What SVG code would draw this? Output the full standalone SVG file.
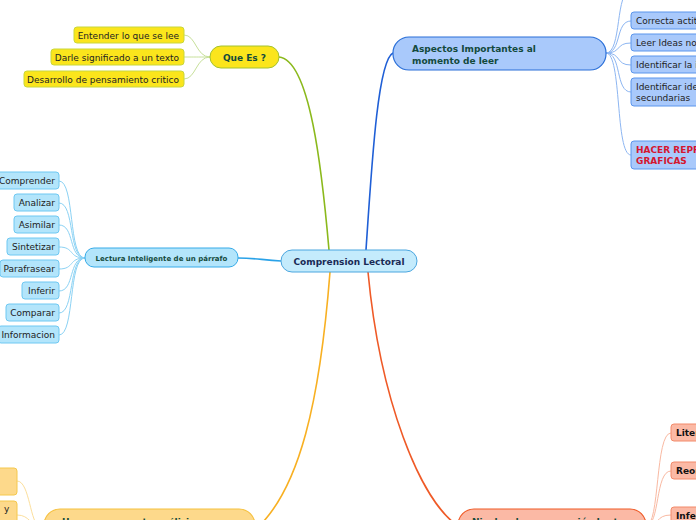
<svg xmlns="http://www.w3.org/2000/svg" width="696" height="520" viewBox="0 0 696 520">
<style>
text{font-family:"DejaVu Sans",Verdana,sans-serif;font-size:9px;fill:#222}
.b{font-weight:bold}
.t{fill:#134a3c;font-weight:bold}
.y{fill:#fbe51c;stroke:#c9d73a;stroke-width:1}
.c{fill:#b3e5fb;stroke:#6ec8f2;stroke-width:1}
.bl{fill:#a9c9fb;stroke:#5b95ec;stroke-width:1}
.s{fill:#fbb9a5;stroke:#f28a6a;stroke-width:1}
.o{fill:#fdd98b;stroke:#f5c84c;stroke-width:1}
path{fill:none}
</style>
<rect width="696" height="520" fill="#fff"/>
<g id="connectors">
<path d="M329,250 C322,170 310,60 279,57" stroke="#8bb91c" stroke-width="1.6"/>
<path d="M366,250 C372,160 378,60 393,53" stroke="#1f5fd6" stroke-width="1.6"/>
<path d="M281,261 C262,260 255,258 238,258" stroke="#2aa2e8" stroke-width="1.6"/>
<path d="M330,272 C320,400 300,490 255,530" stroke="#f8b022" stroke-width="1.6"/>
<path d="M368,272 C380,400 420,500 458,526" stroke="#ef5a27" stroke-width="1.6"/>
<g stroke="#c7e09a" stroke-width="1">
<path d="M210,57 C196,57 196,35 184,35"/>
<path d="M210,57 C196,57 196,57 184,57"/>
<path d="M210,57 C196,57 196,79 184,79"/>
</g>
<g stroke="#8bd2f4" stroke-width="1">
<path d="M85,258 C68,258 75,181 59,181"/>
<path d="M85,258 C68,258 75,203 59,203"/>
<path d="M85,258 C68,258 75,225 59,225"/>
<path d="M85,258 C68,258 75,247 59,247"/>
<path d="M85,258 C68,258 75,269 59,269"/>
<path d="M85,258 C68,258 75,291 59,291"/>
<path d="M85,258 C68,258 75,313 59,313"/>
<path d="M85,258 C68,258 75,335 59,335"/>
</g>
<g stroke="#8db6f2" stroke-width="1">
<path d="M606,53 C622,53 615,-10 631,-10"/>
<path d="M606,53 C622,53 615,21 631,21"/>
<path d="M606,53 C622,53 615,43 631,43"/>
<path d="M606,53 C622,53 615,65 631,65"/>
<path d="M606,53 C622,53 615,92 631,92"/>
<path d="M606,53 C622,53 615,155 631,155"/>
</g>
<g stroke="#f9b9a2" stroke-width="1">
<path d="M646,526 C660,526 655,433 671,433"/>
<path d="M646,526 C660,526 655,471 671,471"/>
<path d="M646,526 C660,526 655,515 671,515"/>
</g>
<g stroke="#fcdf9c" stroke-width="1">
<path d="M40,526 C30,526 30,481 17,481"/>
<path d="M40,526 C30,526 30,515 17,515"/>
</g>
</g>
<g id="central">
<rect x="281" y="250" width="136" height="22" rx="11" fill="#c4ebfc" stroke="#4ba6df" stroke-width="1"/>
<text x="349" y="265" text-anchor="middle" class="b" style="fill:#1a2a55">Comprension Lectoral</text>
</g>
<g id="que-es">
<rect x="210" y="46" width="69" height="22" rx="11" fill="#fbe51c" stroke="#a4c22e" stroke-width="1"/>
<text x="244.5" y="61" text-anchor="middle" class="t">Que Es ?</text>
</g>
<g id="que-1"><rect class="y" x="74" y="27" width="110" height="16" rx="3"/><text x="179" y="38.5" text-anchor="end">Entender lo que se lee</text></g>
<g id="que-2"><rect class="y" x="51" y="49" width="133" height="16" rx="3"/><text x="179" y="60.5" text-anchor="end">Darle significado a un texto</text></g>
<g id="que-3"><rect class="y" x="24" y="71" width="160" height="16" rx="3"/><text x="179" y="82.5" text-anchor="end">Desarrollo de pensamiento critico</text></g>
<g id="aspectos">
<rect x="393" y="37" width="213" height="33" rx="16" fill="#a9c9fb" stroke="#2a6fd8" stroke-width="1.2"/>
<text x="412" y="52" class="t">Aspectos Importantes al</text>
<text x="412" y="64" class="t">momento de leer</text>
</g>
<g id="asp-1"><rect class="bl" x="631" y="12" width="80" height="17" rx="3"/><text x="636" y="24">Correcta actitud</text></g>
<g id="asp-2"><rect class="bl" x="631" y="34" width="80" height="17" rx="3"/><text x="636" y="46">Leer Ideas no palabras</text></g>
<g id="asp-3"><rect class="bl" x="631" y="56" width="80" height="17" rx="3"/><text x="636" y="68">Identificar la idea principal</text></g>
<g id="asp-4"><rect class="bl" x="631" y="78" width="80" height="28" rx="3"/><text x="636" y="90">Identificar ideas</text><text x="636" y="101">secundarias</text></g>
<g id="asp-5"><rect class="bl" x="631" y="141" width="80" height="28" rx="3"/><text x="636" y="153" class="b" style="fill:#d5162f">HACER REPRESENTACIONES</text><text x="636" y="164" class="b" style="fill:#d5162f">GRAFICAS</text></g>
<g id="lectura">
<rect x="85" y="248" width="153" height="19" rx="9" fill="#b3e5fb" stroke="#36abe8" stroke-width="1"/>
<text x="161.5" y="261" text-anchor="middle" class="t" style="font-size:7px">Lectura Inteligente de un párrafo</text>
</g>
<g id="lec-1"><rect class="c" x="-10" y="172" width="69" height="17" rx="3"/><text x="55" y="184" text-anchor="end">Comprender</text></g>
<g id="lec-2"><rect class="c" x="14" y="194" width="45" height="17" rx="3"/><text x="55" y="206" text-anchor="end">Analizar</text></g>
<g id="lec-3"><rect class="c" x="14" y="216" width="45" height="17" rx="3"/><text x="55" y="228" text-anchor="end">Asimilar</text></g>
<g id="lec-4"><rect class="c" x="7" y="238" width="52" height="17" rx="3"/><text x="55" y="250" text-anchor="end">Sintetizar</text></g>
<g id="lec-5"><rect class="c" x="0" y="260" width="59" height="17" rx="3"/><text x="55" y="272" text-anchor="end">Parafrasear</text></g>
<g id="lec-6"><rect class="c" x="22" y="282" width="37" height="17" rx="3"/><text x="55" y="294" text-anchor="end">Inferir</text></g>
<g id="lec-7"><rect class="c" x="6" y="304" width="53" height="17" rx="3"/><text x="55" y="316" text-anchor="end">Comparar</text></g>
<g id="lec-8"><rect class="c" x="-2" y="326" width="61" height="17" rx="3"/><text x="55" y="338" text-anchor="end">Informacion</text></g>
<g id="analisis">
<rect x="44" y="509" width="211" height="40" rx="16" fill="#fdd98b" stroke="#f6c13f" stroke-width="1.2"/>
<text x="62" y="525" class="t">Hacer un correcto análisis y</text>
</g>
<g id="ana-1"><rect class="o" x="-10" y="468" width="27" height="27" rx="3"/></g>
<g id="ana-2"><rect class="o" x="-10" y="501" width="27" height="30" rx="3"/><text x="4" y="512">y</text></g>
<g id="niveles">
<rect x="458" y="509" width="188" height="40" rx="16" fill="#fbb9a5" stroke="#ef5a27" stroke-width="1.2"/>
<text x="472" y="525" class="t">Niveles de comprensión Lectora</text>
</g>
<g id="niv-1"><rect class="s" x="671" y="424" width="60" height="17" rx="3"/><text x="676" y="436" class="b" style="fill:#111">Literal</text></g>
<g id="niv-2"><rect class="s" x="671" y="462" width="60" height="17" rx="3"/><text x="676" y="474" class="b" style="fill:#111">Reorganización</text></g>
<g id="niv-3"><rect class="s" x="671" y="507" width="60" height="17" rx="3"/><text x="676" y="519" class="b" style="fill:#111">Inferencial</text></g>
</svg>
